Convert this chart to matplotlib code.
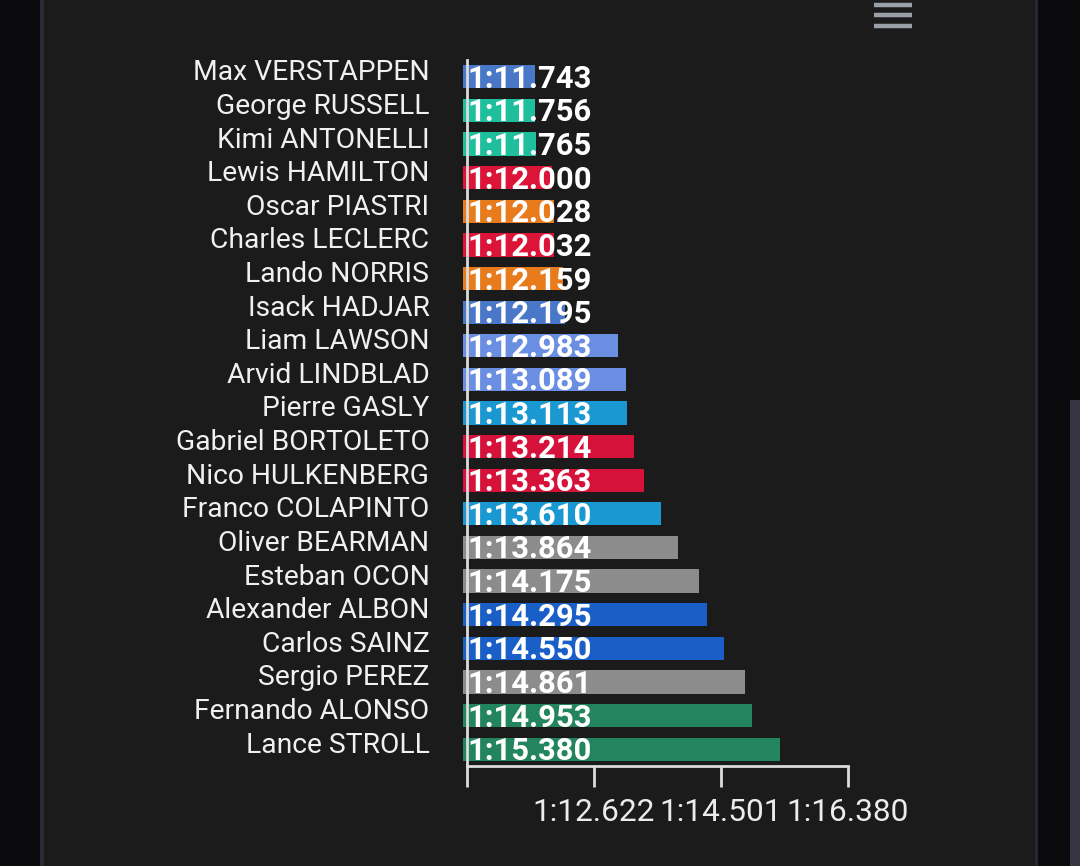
import matplotlib
matplotlib.use("Agg")
import matplotlib.pyplot as plt
import matplotlib.transforms as mtransforms
from matplotlib.patches import Rectangle
from matplotlib.lines import Line2D

plt.rcParams['font.family'] = ['Roboto', 'DejaVu Sans']

drivers = ["Max VERSTAPPEN", "George RUSSELL", "Kimi ANTONELLI", "Lewis HAMILTON",
           "Oscar PIASTRI", "Charles LECLERC", "Lando NORRIS", "Isack HADJAR",
           "Liam LAWSON", "Arvid LINDBLAD", "Pierre GASLY", "Gabriel BORTOLETO",
           "Nico HULKENBERG", "Franco COLAPINTO", "Oliver BEARMAN", "Esteban OCON",
           "Alexander ALBON", "Carlos SAINZ", "Sergio PEREZ", "Fernando ALONSO",
           "Lance STROLL"]
lap_times = [71.743, 71.756, 71.765, 72.000, 72.028, 72.032, 72.159, 72.195,
             72.983, 73.089, 73.113, 73.214, 73.363, 73.610, 73.864, 74.175,
             74.295, 74.550, 74.861, 74.953, 75.380]
colors = ["#4a78c8", "#1fbf9d", "#1fbf9d", "#dc1438", "#e87b1c", "#dc1438",
          "#e87b1c", "#4a78c8", "#6a8ee2", "#6a8ee2", "#1a98d2", "#d7123a",
          "#d7123a", "#1a98d2", "#8c8c8c", "#8c8c8c", "#1a5ec7", "#1a5ec7",
          "#8c8c8c", "#23855f", "#23855f"]
tick_values = [70.743, 72.622, 74.501, 76.380]
tick_labels = ["", "1:12.622", "1:14.501", "1:16.380"]


def fmt(t):
    m = int(t // 60)
    s = t - 60 * m
    return f"{m}:{s:06.3f}"


W, H = 1080, 866
fig = plt.figure(figsize=(W / 100, H / 100), dpi=100)
fig.patch.set_facecolor("#0b0b0d")

# page decoration
deco = [((44, 0), 1035 - 44, H, "#1b1b1b"),
        ((40, 0), 4, H, "#2b2b35"),
        ((1035, 0), 3, H, "#26262e"),
        ((1070, 0), 10, H - 400, "#363642")]
for (x0, y0), w, h, c in deco:
    fig.patches.append(Rectangle((x0 / W, y0 / H), w / W, h / H, transform=fig.transFigure,
                                 facecolor=c, edgecolor="none", zorder=-5))
for yy in (5, 15, 26):
    fig.lines.append(Line2D([874 / W, 912 / W], [1 - yy / H, 1 - yy / H],
                            transform=fig.transFigure, color="#9aa0a8", lw=3.2,
                            solid_capstyle="butt", zorder=-4))

ax = fig.add_axes([463 / W, 1 - 766 / H, (848 - 463) / W, (766 - 60) / H])
ax.set_facecolor("none")
ax.set_zorder(2)

left = tick_values[0] - 4 / ((848 - 467) / (tick_values[-1] - tick_values[0]))
ypos = list(range(len(drivers)))
ax.barh(ypos, [t - left for t in lap_times], left=left, height=0.69,
        color=colors, zorder=2)
ax.set_xlim(left, tick_values[-1])
ax.set_ylim(len(drivers) - 0.5, -0.5)

val_off = mtransforms.ScaledTranslation(0, 0.01, fig.dpi_scale_trans)
for y, t in zip(ypos, lap_times):
    ax.text(tick_values[0], y, fmt(t), ha="left", va="center_baseline",
            fontsize=22.3, fontweight="bold", color="white", zorder=3,
            transform=ax.transData + val_off)

for s in ("top", "right"):
    ax.spines[s].set_visible(False)
ax.spines["left"].set_position(("data", tick_values[0]))
ax.spines["bottom"].set_bounds(tick_values[0], tick_values[-1])
for s in ("left", "bottom"):
    ax.spines[s].set_color("#dcdcdc")
    ax.spines[s].set_linewidth(2)
    ax.spines[s].set_zorder(4)

ax.set_xticks(tick_values)
ax.set_xticklabels(tick_labels)
ax.tick_params(axis="x", length=15, width=2, color="#dcdcdc", pad=8,
               labelsize=22.8, labelcolor="#ececec")
ax.set_yticks(ypos)
ax.set_yticklabels(drivers)
ax.tick_params(axis="y", length=0, pad=27, labelsize=20.3, labelcolor="#f0f0f0")
off = mtransforms.ScaledTranslation(0, 0.07, fig.dpi_scale_trans)
for lab in ax.get_yticklabels():
    lab.set_transform(lab.get_transform() + off)

fig.savefig("out.png", dpi=100, facecolor=fig.get_facecolor())
